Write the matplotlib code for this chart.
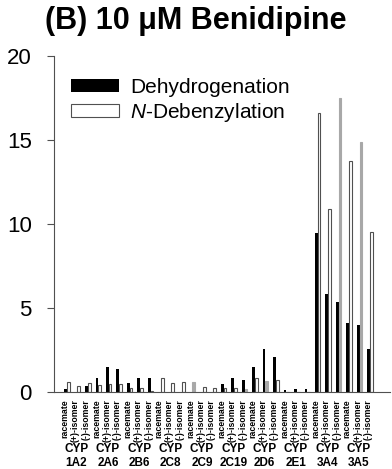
import matplotlib

matplotlib.use("Agg")
import matplotlib.pyplot as plt
import numpy as np

plt.rcParams["font.family"] = ["Liberation Sans", "DejaVu Sans"]
plt.rcParams["mathtext.fontset"] = "custom"
plt.rcParams["mathtext.rm"] = "Liberation Sans"
plt.rcParams["mathtext.it"] = "Liberation Sans:italic"

ENZYMES = ["1A2", "2A6", "2B6", "2C8", "2C9", "2C19", "2D6", "2E1", "3A4", "3A5"]
FORMS = ["racemate", "(+)-isomer", "(-)-isomer"]

# activity per enzyme, order: racemate, (+)-isomer, (-)-isomer
DEHYDROGENATION = [
    0.18, 0.0, 0.39,
    0.84, 1.47, 1.38,
    0.55, 0.83, 0.81,
    0.0, 0.0, 0.0,
    0.0, 0.0, 0.0,
    0.48, 0.81, 0.70,
    1.50, 2.58, 2.06,
    0.12, 0.18, 0.18,
    9.48, 5.86, 5.36,
    4.09, 3.99, 2.56,
]
N_DEBENZYLATION = [
    0.60, 0.39, 0.55,
    0.44, 0.51, 0.50,
    0.24, 0.27, 0.05,
    0.83, 0.53, 0.61,
    0.60, 0.29, 0.24,
    0.24, 0.23, 0.18,
    0.83, 0.66, 0.71,
    0.03, 0.03, 0.03,
    16.6, 10.9, 17.5,
    13.75, 14.86, 9.5,
]

# thin open bars that print as solid grey in the original scan
GREY_BARS = {12, 17, 19, 26, 28}

fig = plt.figure(figsize=(3.92, 4.69), dpi=100)
ax = fig.add_axes([0.138, 0.164, 0.857, 0.717])

x = np.arange(len(DEHYDROGENATION))
width = 0.26

ax.bar(x + 0.05, DEHYDROGENATION, width, color="black", linewidth=0,
       label="Dehydrogenation")
face = ["#a8a8a8" if i in GREY_BARS else "white" for i in x]
edge = ["#a8a8a8" if i in GREY_BARS else "#505050" for i in x]
ax.bar(x + 0.05 + width, N_DEBENZYLATION, width, color=face, edgecolor=edge,
       linewidth=0.8, label="$\\mathit{N}$-Debenzylation")

ax.set_xlim(-1.05, 31.1)
ax.set_ylim(0, 20)
ax.set_yticks([0, 5, 10, 15, 20])
ax.tick_params(axis="y", labelsize=16, length=5, width=0.8, color="#505050",
               direction="out", pad=11)

ax.set_xticks(x)
ax.set_xticklabels(FORMS * len(ENZYMES), rotation=90, fontsize=6.3,
                   fontweight="bold")
ax.tick_params(axis="x", length=0, pad=5)

for i, name in enumerate(ENZYMES):
    ax.text(3 * i + 1.1, -0.19, f"CYP\n{name}", transform=ax.get_xaxis_transform(),
            ha="center", va="center", fontsize=8.5, fontweight="bold",
            linespacing=1.15)

for side in ["top", "right"]:
    ax.spines[side].set_visible(False)
for side in ["left", "bottom"]:
    ax.spines[side].set_color("#505050")
    ax.spines[side].set_linewidth(0.8)

fig.text(0.5, 0.955, "(B) 10 \u03bcM Benidipine", fontsize=22,
         fontweight="bold", ha="center", va="center")

ax.legend(loc="upper left", bbox_to_anchor=(0.05, 0.935), frameon=False,
          fontsize=15, handlelength=2.3, handleheight=0.55,
          handletextpad=0.55, labelspacing=0.2, borderpad=0, borderaxespad=0)

fig.savefig("out.png", dpi=100)
